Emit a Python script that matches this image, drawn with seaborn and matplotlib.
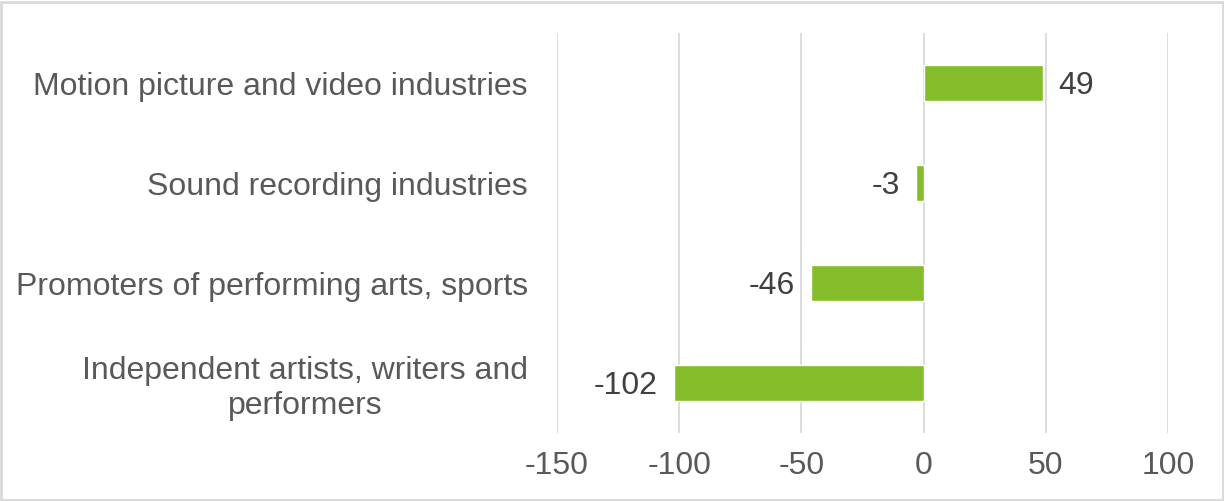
import matplotlib
matplotlib.use("Agg")
import matplotlib.pyplot as plt
import seaborn as sns
import pandas as pd

categories = ["Motion picture and video industries",
              "Sound recording industries",
              "Promoters of performing arts, sports",
              "Independent artists, writers and\nperformers"]
values = [49, -3, -46, -102]
xticks = [-150, -100, -50, 0, 50, 100]

sns.set_theme(style="white")
plt.rcParams['font.family'] = ['Liberation Sans', 'DejaVu Sans']

df = pd.DataFrame({"cat": categories, "val": values})

fig = plt.figure(figsize=(12.24, 5.01), dpi=100)
ax = fig.add_axes([557/1224, 1-433/501, (1168-557)/1224, (433-33)/501])

for x in xticks:
    ax.axvline(x, color="#D9D9D9", lw=1.3, zorder=0)

sns.barplot(data=df, x="val", y="cat", orient="h", color="#84BC2A",
            width=0.36, ax=ax, saturation=1, zorder=2)

FS = 23
ax.set_xlim(-150, 100)
ax.set_ylim(3.5, -0.5)
ax.set_xticks(xticks)
ax.set_xticklabels([str(t) for t in xticks])
ax.tick_params(axis="x", length=0, pad=13, labelsize=FS, labelcolor="#595959")
ax.tick_params(axis="y", length=0, pad=21, labelsize=FS, labelcolor="#595959")
for lbl in ax.get_yticklabels():
    lbl.set_multialignment("center")
ax.set_xlabel("")
ax.set_ylabel("")
for s in ax.spines.values():
    s.set_visible(False)

for i, v in enumerate(values):
    if v >= 0:
        ax.annotate(str(v), (v, i), xytext=(11, 0), textcoords="offset points",
                    ha="left", va="center_baseline", fontsize=FS, color="#404040")
    else:
        ax.annotate(str(v), (v, i), xytext=(-12, 0), textcoords="offset points",
                    ha="right", va="center_baseline", fontsize=FS, color="#404040")

border = plt.Rectangle((0.001, 0.001), 0.998, 0.996, transform=fig.transFigure,
                       fill=False, edgecolor="#D9D9D9", lw=2)
fig.patches.append(border)

fig.savefig("out.png", dpi=100)
